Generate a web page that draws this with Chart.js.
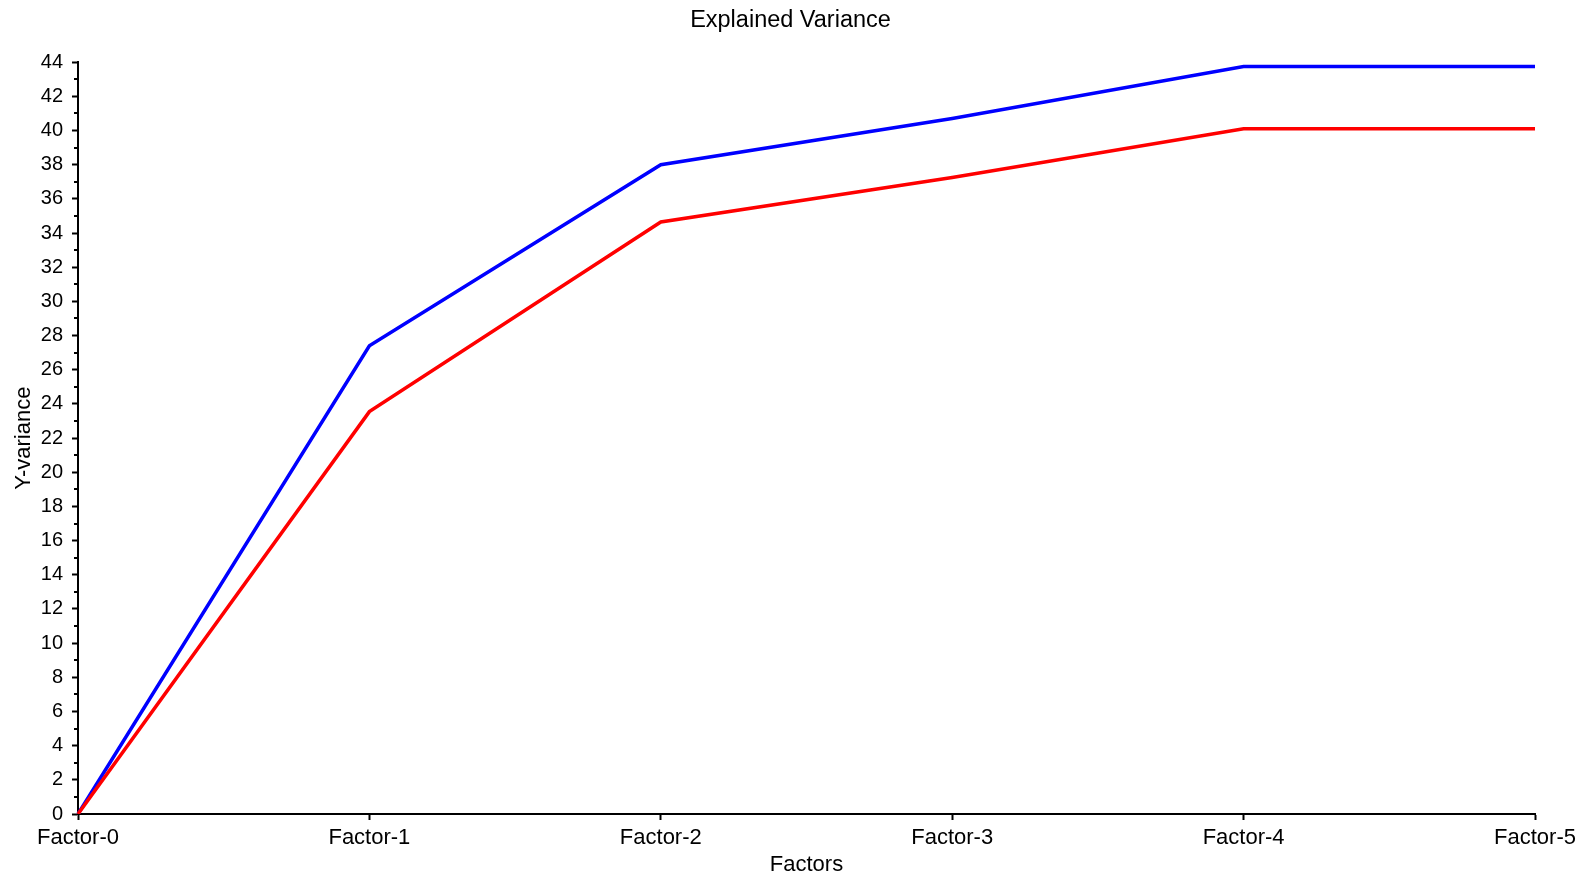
<!DOCTYPE html>
<html>
<head>
<meta charset="utf-8">
<script src="https://cdn.jsdelivr.net/npm/chart.js@4/dist/chart.umd.min.js"></script>
<style>
  html, body { margin: 0; padding: 0; background: #fff; }
  #wrap { width: 1581px; height: 881px; }
</style>
</head>
<body>
<div id="wrap"><canvas id="chart" width="1581" height="881"></canvas></div>
<script>
// Werte
var factorLabels = ['Factor-0', 'Factor-1', 'Factor-2', 'Factor-3', 'Factor-4', 'Factor-5'];
var blueVariance = [0, 27.4, 38.0, 40.7, 43.75, 43.75];
var redVariance = [0, 23.55, 34.65, 37.25, 40.1, 40.1];
var yMinorTicks = [1, 3, 5, 7, 9, 11, 13, 15, 17, 19, 21, 23, 25, 27, 29, 31, 33, 35, 37, 39, 41, 43];

var FONT = '"Liberation Sans", Arial, sans-serif';

// kleine Nebenstriche an der Y-Achse
var minorTicks = {
  id: 'minorTicks',
  afterDraw: function (chart) {
    var y = chart.scales.y;
    var ctx = chart.ctx;
    ctx.save();
    ctx.strokeStyle = '#000';
    ctx.lineWidth = 2;
    yMinorTicks.forEach(function (v) {
      var py = Math.round(y.getPixelForValue(v));
      ctx.beginPath();
      ctx.moveTo(y.right - 4, py);
      ctx.lineTo(y.right, py);
      ctx.stroke();
    });
    ctx.restore();
  }
};

new Chart(document.getElementById('chart').getContext('2d'), {
  type: 'line',
  data: {
    labels: factorLabels,
    datasets: [
      { data: redVariance, borderColor: '#ff0000', borderWidth: 3.5, pointRadius: 0, tension: 0, fill: false, yAxisID: 'y' },
      { data: blueVariance, borderColor: '#0000ff', borderWidth: 3.5, pointRadius: 0, tension: 0, fill: false, yAxisID: 'y' }
    ]
  },
  options: {
    responsive: false,
    animation: false,
    layout: { padding: 0 },
    plugins: {
      legend: { display: false },
      tooltip: { enabled: false },
      title: {
        display: true, text: 'Explained Variance', color: '#000',
        font: { family: FONT, size: 23.5, weight: 'normal' },
        padding: { top: 6, bottom: 28 }
      }
    },
    scales: {
      x: {
        offset: false,
        afterFit: function (s) { s.height = 67; },
        grid: { display: true, drawOnChartArea: false, tickLength: 6, tickWidth: 2, tickColor: '#000' },
        border: { display: true, color: '#000', width: 2 },
        ticks: { color: '#000', padding: 5, maxRotation: 0, autoSkip: false, font: { family: FONT, size: 22 } },
        title: { display: true, text: 'Factors', color: '#000', padding: { top: 0, bottom: 3 }, font: { family: FONT, size: 22 } }
      },
      y: {
        min: 0, max: 44,
        afterFit: function (s) { s.width = 78; },
        grid: { display: true, drawOnChartArea: false, tickLength: 6, tickWidth: 2, tickColor: '#000' },
        border: { display: true, color: '#000', width: 2 },
        ticks: { stepSize: 2, color: '#000', padding: 9, font: { family: FONT, size: 20 } },
        title: { display: true, text: 'Y-variance', color: '#000', padding: { top: 11, bottom: 0 }, font: { family: FONT, size: 22 } }
      },
      // leerer Platz rechts, damit der Titel mittig über der ganzen Fläche steht
      yRight: {
        position: 'right',
        afterFit: function (s) { s.width = 46; },
        grid: { display: false },
        border: { display: false },
        ticks: { display: false }
      }
    }
  },
  plugins: [minorTicks]
});
</script>
</body>
</html>
